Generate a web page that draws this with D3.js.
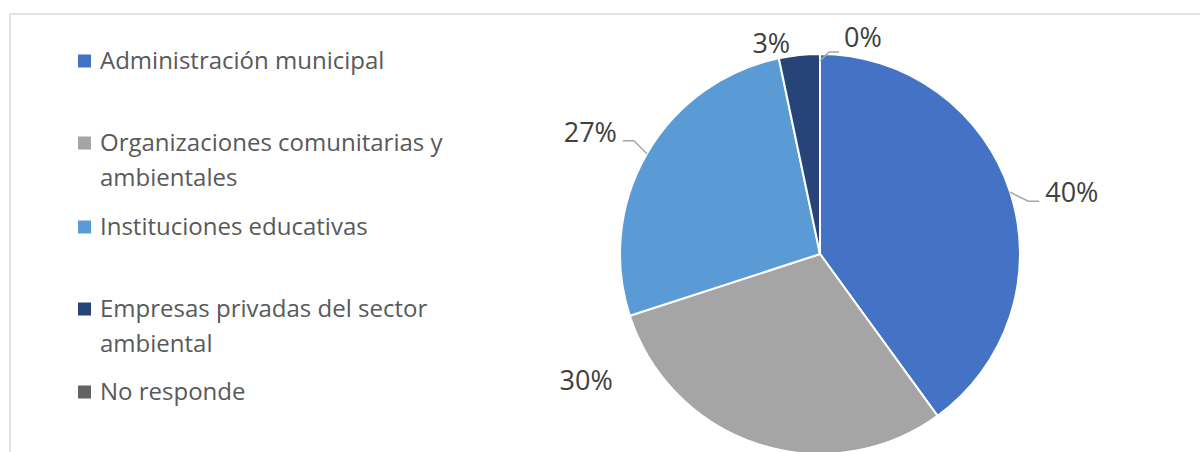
<!DOCTYPE html>
<html><head><meta charset="utf-8">
<script src="https://cdn.jsdelivr.net/npm/d3@7"></script>
<style>html,body{margin:0;padding:0;background:#fff;}svg{display:block;}</style>
</head><body>
<svg id="c" width="1200" height="452"></svg>
<script>
const categories = ["Administración municipal","Organizaciones comunitarias y ambientales","Instituciones educativas","Empresas privadas del sector ambiental","No responde"];
const legendLines = [["Administración municipal"],["Organizaciones comunitarias y","ambientales"],["Instituciones educativas"],["Empresas privadas del sector","ambiental"],["No responde"]];
const values = [40, 30, 26.7, 3.3, 0];
const labels = ["40%","30%","27%","3%","0%"];
const colors = ["#4472C4","#A5A5A5","#5B9BD5","#264478","#636363"];

const svg = d3.select("#c");
const W = 1200, H = 452;
const font = "'Open Sans', sans-serif";

// frame
svg.append("line").attr("x1",10).attr("x2",W).attr("y1",14).attr("y2",14).attr("stroke","#d9d9d9").attr("stroke-width",1.5);
svg.append("line").attr("x1",10).attr("x2",10).attr("y1",14).attr("y2",H).attr("stroke","#d9d9d9").attr("stroke-width",1.5);

// pie
const cx = 820, cy = 254, R = 200;
const pie = d3.pie().sort(null).value(d=>d).startAngle(0).endAngle(2*Math.PI);
const arcs = pie(values);
const arc = d3.arc().innerRadius(0).outerRadius(R);
const g = svg.append("g").attr("transform",`translate(${cx},${cy})`);
g.selectAll("path").data(arcs).join("path")
  .attr("d",arc).attr("fill",(d,i)=>colors[i])
  .attr("stroke","#fff").attr("stroke-width",2).attr("stroke-linejoin","round");

// labels: leader segments relative to the arc edge at mid-angle
const labelLayout = [
  {leader:[[18,9],[11,0]], tx:6, ty:1, anchor:"start"},
  {leader:null, dx:-172, dy:-54, anchor:"middle"},
  {leader:[[-13,-13],[-11,0]], tx:-6, ty:1, anchor:"end"},
  {leader:null, dx:-28, dy:-2, anchor:"middle"},
  {leader:[[9,-9],[10,0]], tx:5, ty:-5, anchor:"start", r:193}
];
arcs.forEach((a,i)=>{
  const L = labelLayout[i];
  const m = (a.startAngle+a.endAngle)/2;
  const r = L.r || R;
  const p = [r*Math.sin(m), -r*Math.cos(m)];
  let tx, ty;
  if (L.leader){
    const pts=[p.slice()];
    let q=p.slice();
    L.leader.forEach(s=>{q=[q[0]+s[0],q[1]+s[1]];pts.push(q.slice());});
    g.append("path").attr("d",d3.line()(pts)).attr("fill","none").attr("stroke","#a6a6a6").attr("stroke-width",1.5);
    tx=q[0]+L.tx; ty=q[1]+L.ty;
  } else { tx=p[0]+L.dx; ty=p[1]+L.dy; }
  g.append("text").attr("x",tx).attr("y",ty).attr("text-anchor",L.anchor)
   .attr("font-family",font).attr("font-size",27).attr("fill","#404040").text(labels[i]);
});

// legend
const legendY = [61,143,227,309,392];
const lg = svg.append("g");
legendLines.forEach((lines,i)=>{
  lg.append("rect").attr("x",78).attr("y",legendY[i]-6.5).attr("width",13).attr("height",13).attr("fill",colors[i]);
  lines.forEach((t,j)=>{
    lg.append("text").attr("x",100).attr("y",legendY[i]+8+j*35)
      .attr("font-family",font).attr("font-size",24).attr("fill","#595959").text(t);
  });
});
</script>
</body></html>
